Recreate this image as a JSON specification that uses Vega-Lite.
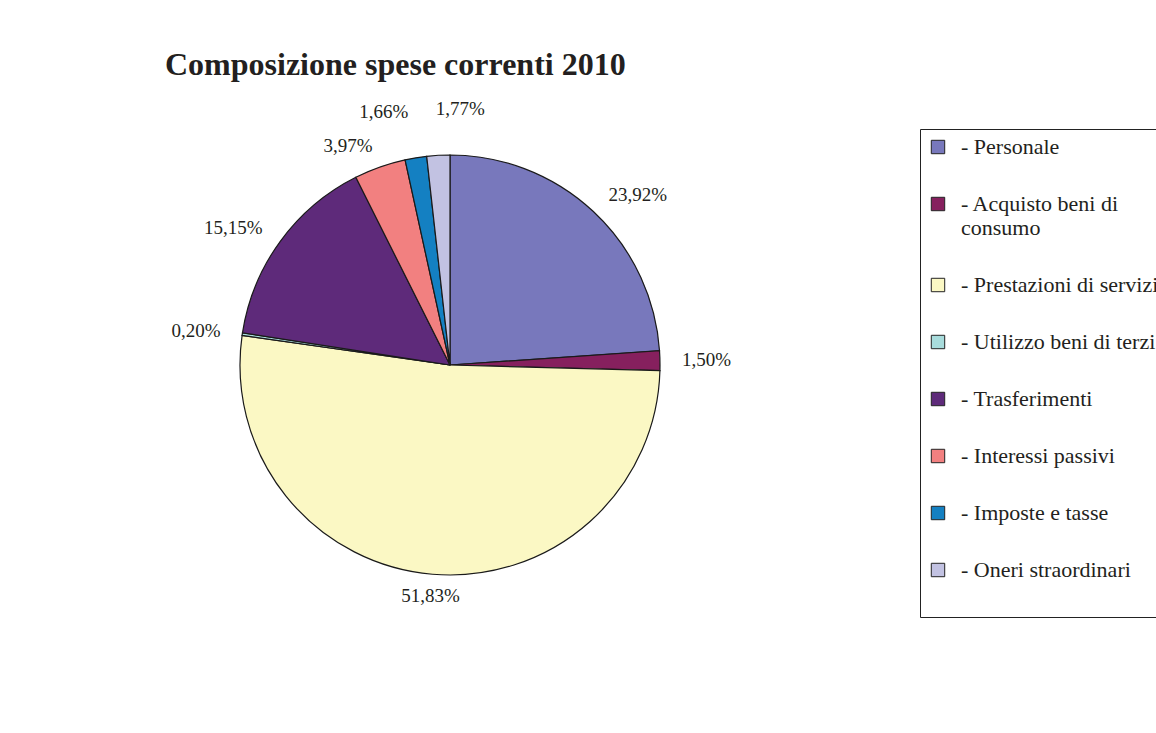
{
  "$schema": "https://vega.github.io/schema/vega-lite/v6.json",
  "width": 570,
  "height": 530,
  "autosize": {"type": "none"},
  "padding": {"left": 165, "top": 100, "right": 421, "bottom": 103},
  "background": "white",
  "title": {
    "text": "Composizione spese correnti 2010",
    "anchor": "start",
    "font": "Liberation Serif",
    "fontSize": 32,
    "fontWeight": "bold",
    "color": "#231f20",
    "offset": -7,
    "baseline": "alphabetic"
  },
  "data": {
    "values": [
      {"order": 1, "name": "Personale", "share": 0.2392},
      {"order": 2, "name": "Acquisto beni di consumo", "share": 0.0150},
      {"order": 3, "name": "Prestazioni di servizi", "share": 0.5183},
      {"order": 4, "name": "Utilizzo beni di terzi", "share": 0.0020},
      {"order": 5, "name": "Trasferimenti", "share": 0.1515},
      {"order": 6, "name": "Interessi passivi", "share": 0.0397},
      {"order": 7, "name": "Imposte e tasse", "share": 0.0166},
      {"order": 8, "name": "Oneri straordinari", "share": 0.0177}
    ]
  },
  "layer": [
    {
      "mark": {"type": "arc", "outerRadius": 210, "stroke": "#1a1a1a", "strokeWidth": 1.2},
      "encoding": {
        "theta": {"field": "share", "type": "quantitative", "stack": true},
        "order": {"field": "order"},
        "color": {
          "field": "name",
          "type": "nominal",
          "scale": {
            "domain": ["Personale", "Acquisto beni di consumo", "Prestazioni di servizi", "Utilizzo beni di terzi", "Trasferimenti", "Interessi passivi", "Imposte e tasse", "Oneri straordinari"],
            "range": ["#7878BC", "#86205E", "#FBF8C4", "#A8DCDC", "#5E2A7A", "#F28080", "#1480C2", "#C2C2E2"]
          },
          "legend": {
            "orient": "none",
            "legendX": 755,
            "legendY": 29,
            "title": " ",
            "titleOrient": "bottom",
            "titleFontSize": 22,
            "titlePadding": 8,
            "strokeColor": "#222222",
            "padding": 7,
            "symbolType": "square",
            "symbolSize": 180,
            "symbolStrokeColor": "#222222",
            "symbolStrokeWidth": 1,
            "symbolOpacity": 1,
            "labelFont": "Liberation Serif",
            "labelFontSize": 22,
            "labelColor": "#231f20",
            "labelOffset": 12,
            "labelLimit": 400,
            "rowPadding": 35,
            "labelExpr": "datum.label == 'Acquisto beni di consumo' ? ['- Acquisto beni di', 'consumo'] : '- ' + datum.label"
          }
        }
      }
    },
    {
      "mark": {"type": "text", "radius": 232, "align": "left", "font": "Liberation Serif", "fontSize": 19, "color": "#231f20"},
      "encoding": {
        "theta": {"field": "share", "type": "quantitative", "stack": true},
        "order": {"field": "order"},
        "text": {"condition": {"test": "indexof(['Personale','Acquisto beni di consumo'], datum.name) >= 0", "field": "share", "type": "quantitative", "format": ".2%"}, "value": ""}
      }
    },
    {
      "mark": {"type": "text", "radius": 232, "align": "center", "font": "Liberation Serif", "fontSize": 19, "color": "#231f20"},
      "encoding": {
        "theta": {"field": "share", "type": "quantitative", "stack": true},
        "order": {"field": "order"},
        "text": {"condition": {"test": "datum.name == 'Prestazioni di servizi'", "field": "share", "type": "quantitative", "format": ".2%"}, "value": ""}
      }
    },
    {
      "mark": {"type": "text", "radius": 232, "align": "right", "font": "Liberation Serif", "fontSize": 19, "color": "#231f20"},
      "encoding": {
        "theta": {"field": "share", "type": "quantitative", "stack": true},
        "order": {"field": "order"},
        "text": {"condition": {"test": "indexof(['Utilizzo beni di terzi','Trasferimenti','Interessi passivi'], datum.name) >= 0", "field": "share", "type": "quantitative", "format": ".2%"}, "value": ""}
      }
    },
    {
      "mark": {"type": "text", "radius": 256, "align": "right", "font": "Liberation Serif", "fontSize": 19, "color": "#231f20"},
      "encoding": {
        "theta": {"field": "share", "type": "quantitative", "stack": true},
        "order": {"field": "order"},
        "text": {"condition": {"test": "datum.name == 'Imposte e tasse'", "field": "share", "type": "quantitative", "format": ".2%"}, "value": ""}
      }
    },
    {
      "mark": {"type": "text", "radius": 256, "align": "left", "font": "Liberation Serif", "fontSize": 19, "color": "#231f20"},
      "encoding": {
        "theta": {"field": "share", "type": "quantitative", "stack": true},
        "order": {"field": "order"},
        "text": {"condition": {"test": "datum.name == 'Oneri straordinari'", "field": "share", "type": "quantitative", "format": ".2%"}, "value": ""}
      }
    }
  ],
  "config": {
    "view": {"stroke": null},
    "locale": {
      "number": {"decimal": ",", "thousands": ".", "grouping": [3], "currency": ["€", ""]}
    }
  }
}
